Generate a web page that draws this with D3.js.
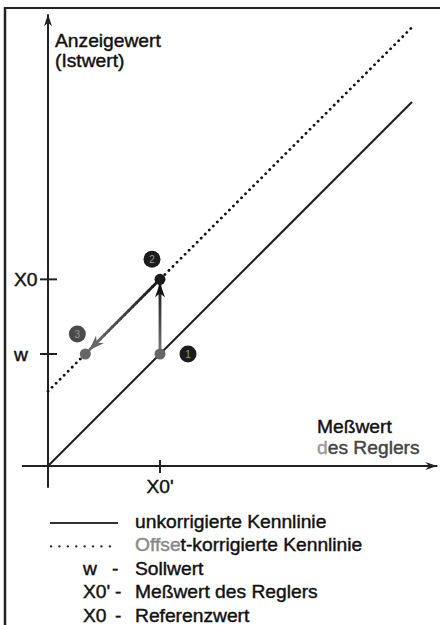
<!DOCTYPE html>
<html>
<head>
<meta charset="utf-8">
<script src="https://cdn.jsdelivr.net/npm/d3@7"></script>
<style>
  body { margin: 0; background: #fff; }
  svg { display: block; }
  text { stroke-width: 0.4px; }
</style>
</head>
<body>
<svg></svg>
<script>
// Kennlinien (Einheiten: X0' = 3)
const lineX = [0, 9.75];
const offset = 2;
// Arbeitspunkte 1, 2, 3
const pointX = [3, 3, 1];
const pointY = [3, 5, 3];
const pointLabels = ["1", "2", "3"];
// Achsenmarken
const yTicks = [3, 5];
const yTickLabels = ["w", "X0"];
const xTicks = [3];
const xTickLabels = ["X0'"];
// Legende
const legendSymbols = ["solid", "dotted", "w", "X0'", "X0"];
const legendDash = ["", "", "-", "-", "-"];
const legendTexts = ["unkorrigierte Kennlinie", "Offset-korrigierte Kennlinie", "Sollwert", "Meßwert des Reglers", "Referenzwert"];

const width = 440, height = 625;
const font = "'Liberation Sans', Arial, Helvetica, sans-serif";
const sx = 1.1;

const svg = d3.select("svg").attr("width", width).attr("height", height);

const x = d3.scaleLinear().domain([0, 10]).range([48, 421.3]);
const y = d3.scaleLinear().domain([0, 10]).range([466, 92.7]);

const defs = svg.append("defs");
function marker(id, w, h, fill) {
  defs.append("marker").attr("id", id)
      .attr("viewBox", `0 0 ${w} ${h}`).attr("refX", w).attr("refY", h / 2)
      .attr("markerWidth", w).attr("markerHeight", h).attr("markerUnits", "userSpaceOnUse")
      .attr("orient", "auto")
      .append("path").attr("d", `M0,0 L${w},${h / 2} L0,${h} L${w * 0.3},${h / 2} Z`).attr("fill", fill);
}
marker("axhead", 12, 8, "#222");
marker("headBlack", 14, 10, "#111");
marker("headGray", 15, 11, "#666");

function grad(id, x1, y1, x2, y2, c1, c2) {
  const g = defs.append("linearGradient").attr("id", id)
      .attr("gradientUnits", "userSpaceOnUse")
      .attr("x1", x1).attr("y1", y1).attr("x2", x2).attr("y2", y2);
  g.append("stop").attr("offset", 0).attr("stop-color", c1);
  g.append("stop").attr("offset", 1).attr("stop-color", c2);
}

function txt(tx, ty, s, fill, anchor) {
  return svg.append("text").attr("transform", `translate(${tx},${ty}) scale(${sx},1)`)
      .attr("font-family", font).attr("font-size", 17.5)
      .attr("fill", fill || "#111").attr("stroke", fill || "#111")
      .attr("text-anchor", anchor || "start").text(s);
}

// Rahmen
svg.append("line").attr("x1", 5).attr("y1", 7).attr("x2", 5).attr("y2", height)
    .attr("stroke", "#222").attr("stroke-width", 2.5);
svg.append("line").attr("x1", 4).attr("y1", 8).attr("x2", width).attr("y2", 8)
    .attr("stroke", "#222").attr("stroke-width", 2);

// Achsen
svg.append("line").attr("x1", x(0)).attr("y1", y(-0.58)).attr("x2", x(0)).attr("y2", y(12.1))
    .attr("stroke", "#222").attr("stroke-width", 2).attr("marker-end", "url(#axhead)");
svg.append("line").attr("x1", x(-0.7)).attr("y1", y(0)).attr("x2", x(10.43)).attr("y2", y(0))
    .attr("stroke", "#222").attr("stroke-width", 2).attr("marker-end", "url(#axhead)");

// Kennlinien
const line = d3.line().x(d => x(d[0])).y(d => y(d[1]));
svg.append("path").datum(lineX.map(v => [v, v])).attr("d", line)
    .attr("fill", "none").attr("stroke", "#222").attr("stroke-width", 2.2);
svg.append("path").datum(lineX.map(v => [v, v + offset])).attr("d", line)
    .attr("fill", "none").attr("stroke", "#111").attr("stroke-width", 2.8)
    .attr("stroke-dasharray", "0.1 5.6").attr("stroke-linecap", "round");

// Achsenmarken
yTicks.forEach((t, i) => {
  svg.append("line").attr("x1", x(0) - 8).attr("x2", x(0) + 9).attr("y1", y(t)).attr("y2", y(t))
      .attr("stroke", "#222").attr("stroke-width", 2);
  txt(14, y(t) + 7, yTickLabels[i]);
});
xTicks.forEach((t, i) => {
  svg.append("line").attr("x1", x(t)).attr("x2", x(t)).attr("y1", y(0) - 6).attr("y2", y(0) + 7)
      .attr("stroke", "#222").attr("stroke-width", 2);
  txt(x(t), y(0) + 27, xTickLabels[i], "#111", "middle");
});

// Pfeile 1 -> 2 -> 3
const p = pointX.map((v, i) => [x(v), y(pointY[i])]);
grad("g12", 0, p[0][1], 0, p[1][1], "#777", "#111");
grad("g23", p[1][0], p[1][1], p[2][0], p[2][1], "#111", "#777");
svg.append("line").attr("x1", p[0][0]).attr("y1", p[0][1]).attr("x2", p[1][0]).attr("y2", p[1][1] + 4)
    .attr("stroke", "url(#g12)").attr("stroke-width", 2.8).attr("marker-end", "url(#headBlack)");
svg.append("line").attr("x1", p[1][0]).attr("y1", p[1][1])
    .attr("x2", p[2][0] + 4).attr("y2", p[2][1] - 4)
    .attr("stroke", "url(#g23)").attr("stroke-width", 2.8).attr("marker-end", "url(#headGray)");

// Punkte
svg.selectAll(".pt").data(pointX).join("circle").attr("class", "pt")
    .attr("cx", d => x(d)).attr("cy", (d, i) => y(pointY[i]))
    .attr("r", 5.5)
    .attr("fill", (d, i) => i === 1 ? "#1a1a1a" : "#666");

// Nummern
const badgeDx = [28, -8, -8];
const badgeDy = [0, -20, -20];
const badges = svg.selectAll(".badge").data(pointLabels).join("g").attr("class", "badge")
    .attr("transform", (d, i) => `translate(${x(pointX[i]) + badgeDx[i]},${y(pointY[i]) + badgeDy[i]})`);
badges.append("circle").attr("r", 8.5).attr("fill", (d, i) => i === 2 ? "#4a4a4a" : "#1c1c1c");
badges.append("text").attr("text-anchor", "middle").attr("dy", 3.5)
    .attr("font-family", font).attr("font-size", 10).attr("fill", "#999").attr("stroke", "none").text(d => d);

// Achsenbeschriftungen
txt(55, 47, "Anzeigewert");
txt(55, 67, "(Istwert)");
txt(317, 433, "Meßwert");
const dr = txt(317, 454, "");
dr.append("tspan").attr("fill", "#999").attr("stroke", "#999").text("d");
dr.append("tspan").attr("fill", "#444").attr("stroke", "#444").text("es Reglers");

// Legende
const ly = d3.scalePoint().domain(d3.range(legendTexts.length)).range([528, 621.5]);
legendSymbols.forEach((s, i) => {
  const yy = ly(i);
  if (s === "solid") {
    svg.append("line").attr("x1", 50).attr("x2", 118).attr("y1", yy - 5).attr("y2", yy - 5)
        .attr("stroke", "#333").attr("stroke-width", 2);
  } else if (s === "dotted") {
    svg.append("line").attr("x1", 51).attr("x2", 118).attr("y1", yy - 5).attr("y2", yy - 5)
        .attr("stroke", "#222").attr("stroke-width", 2.3).attr("stroke-linecap", "round")
        .attr("stroke-dasharray", "0.1 8.3");
  } else {
    txt(83, yy, s);
    txt(s === "w" ? 112 : 115, yy, legendDash[i]);
  }
  if (i === 1) {
    const t = txt(135, yy, "");
    t.append("tspan").attr("fill", "#888").attr("stroke", "#888").text(legendTexts[i].slice(0, 5));
    t.append("tspan").text(legendTexts[i].slice(5));
  } else {
    txt(135, yy, legendTexts[i]);
  }
});
</script>
</body>
</html>
